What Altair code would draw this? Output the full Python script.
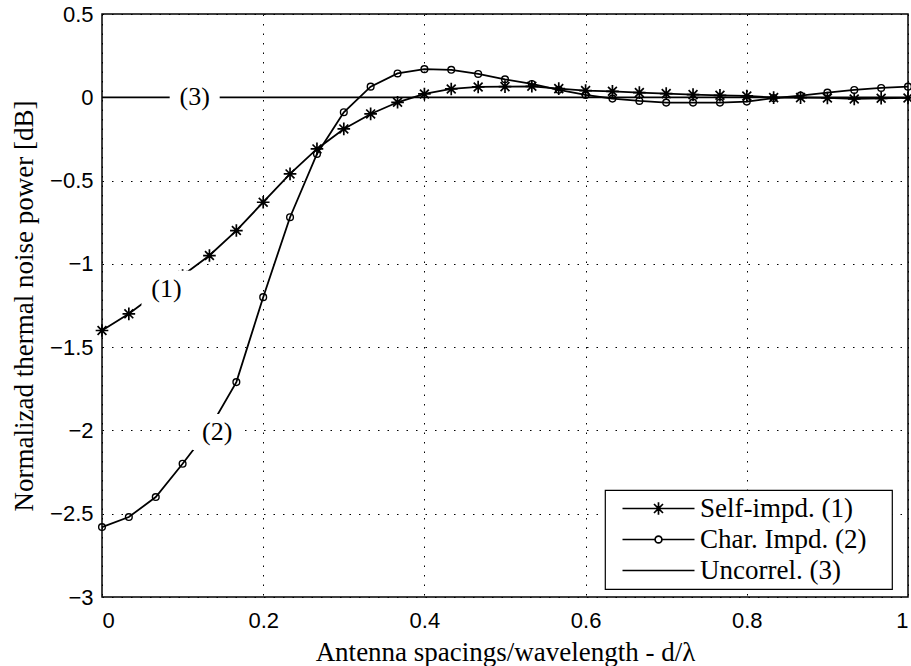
import altair as alt
import pandas as pd

# ---- data ----
x_vals = [0.0, 0.0333, 0.0667, 0.1, 0.1333, 0.1667, 0.2, 0.2333, 0.2667, 0.3,
          0.3333, 0.3667, 0.4, 0.4333, 0.4667, 0.5, 0.5333, 0.5667, 0.6, 0.6333,
          0.6667, 0.7, 0.7333, 0.7667, 0.8, 0.8333, 0.8667, 0.9, 0.9333, 0.9667, 1.0]

self_impd = [-1.40, -1.30, -1.18, -1.07, -0.95, -0.80, -0.63, -0.46, -0.31, -0.19,
             -0.10, -0.03, 0.02, 0.05, 0.062, 0.064, 0.066, 0.052, 0.040, 0.036,
             0.028, 0.022, 0.016, 0.012, 0.008, -0.002, -0.002, -0.004, -0.010, -0.006, -0.004]

char_impd = [-2.58, -2.52, -2.40, -2.20, -1.99, -1.71, -1.20, -0.72, -0.34, -0.09,
             0.064, 0.143, 0.169, 0.165, 0.140, 0.108, 0.080, 0.045, 0.014, -0.008,
             -0.022, -0.032, -0.032, -0.032, -0.026, -0.005, 0.010, 0.028, 0.044, 0.056, 0.064]

uncorr_x = [0.0, 1.0]
uncorr_y = [0.0, 0.0]

series_names = ["Self-impd. (1)", "Char. Impd. (2)", "Uncorrel. (3)"]

label_text = ["(1)", "(2)", "(3)"]
label_x = [0.080, 0.143, 0.115]
label_y = [-1.15, -2.01, 0.0]

y_ticks = [-3, -2.5, -2, -1.5, -1, -0.5, 0, 0.5]
x_ticks = [0, 0.2, 0.4, 0.6, 0.8, 1]

# ---- tables ----
df1 = pd.DataFrame({"x": x_vals, "y": self_impd, "series": series_names[0]})
df2 = pd.DataFrame({"x": x_vals, "y": char_impd, "series": series_names[1]})
df12 = pd.concat([df1, df2], ignore_index=True)
df3 = pd.DataFrame({"x": uncorr_x, "y": uncorr_y})
df_lab = pd.DataFrame({"x": label_x, "y": label_y, "t": label_text})
df_leg = pd.DataFrame({"series": series_names})

STAR = "M0,-1V1M-1,0H1M-0.7,-0.7L0.7,0.7M-0.7,0.7L0.7,-0.7"
BOX = "M-1.25,-0.9H1.25V0.9H-1.25Z"
# legend symbols (unit = 9 px): line sample from -1 to 7, marker centred at 3
LEG_STAR = ("M-1,0H7M3,-0.7V0.7M2.3,0H3.7"
            "M2.5,-0.5L3.5,0.5M2.5,0.5L3.5,-0.5")
LEG_CIRC = ("M-1,0H2.62M3.38,0H7"
            "M3.38,0A0.38,0.38 0 1,1 2.62,0A0.38,0.38 0 1,1 3.38,0")
LEG_LINE = "M-1,0H7"

xs = alt.Scale(domain=[0, 1], nice=False, zero=False)
ys = alt.Scale(domain=[-3, 0.5], nice=False, zero=False)

X = alt.X("x:Q", scale=xs,
          axis=alt.Axis(values=x_ticks, format="~g", title="Antenna spacings/wavelength - d/λ",
                        labelPadding=13, titlePadding=8))
Y = alt.Y("y:Q", scale=ys,
          axis=alt.Axis(values=y_ticks, format="~g", title="Normalizad thermal noise power [dB]",
                        labelPadding=9, titlePadding=11))

line3 = alt.Chart(df3).mark_line(color="black", strokeWidth=1.8).encode(x=X, y=Y)

lines = alt.Chart(df12).mark_line(color="black", strokeWidth=1.8).encode(
    x=X, y=Y, detail="series:N")

stars = alt.Chart(df1).mark_point(shape=STAR, size=160, color="black", strokeWidth=1.7,
                                  filled=False, opacity=1).encode(x=X, y=Y)
circles = alt.Chart(df2).mark_point(shape="circle", size=45, color="black", strokeWidth=1.4,
                                    filled=False, opacity=1).encode(x=X, y=Y)

lab_bg = alt.Chart(df_lab).mark_point(shape=BOX, size=1600, filled=True, color="white",
                                      opacity=1, strokeWidth=0).encode(x=X, y=Y)
lab_txt = alt.Chart(df_lab).mark_text(font="Liberation Serif", fontSize=26, color="black",
                                      align="center", baseline="middle").encode(
    x=X, y=Y, text="t:N")

legend_layer = alt.Chart(df_leg).mark_point(opacity=0, color="black", filled=False,
                                            strokeWidth=1.6).encode(
    x=alt.value(0), y=alt.value(0),
    shape=alt.Shape("series:N",
                    scale=alt.Scale(domain=series_names, range=[LEG_STAR, LEG_CIRC, LEG_LINE]),
                    legend=alt.Legend(title=None, orient="none", legendX=503, legendY=476,
                                      symbolSize=324, symbolStrokeWidth=1.7,
                                      symbolStrokeColor="black", symbolFillColor="transparent",
                                      symbolOpacity=1, symbolOffset=8,
                                      labelFont="Liberation Serif", labelFontSize=27,
                                      labelColor="black", labelOffset=55, labelLimit=400,
                                      labelExpr="datum.label + '\u2800'",
                                      rowPadding=3, padding=5,
                                      strokeColor="black", fillColor="white")))

chart = alt.layer(line3, lines, stars, circles, lab_bg, lab_txt, legend_layer).properties(
    width=806, height=583,
    autosize=alt.AutoSizeParams(type="none"),
    padding={"left": 102, "top": 14, "right": 3, "bottom": 69},
).configure_view(stroke="black", strokeWidth=1.5).configure_axis(
    grid=True, gridColor="black", gridDash=[1.5, 8], gridWidth=1, gridOpacity=1,
    domain=False, ticks=False,
    labelFont="Liberation Sans", labelFontSize=22, labelColor="black",
    titleFont="Liberation Serif", titleFontSize=27, titleFontWeight="normal", titleColor="black",
).configure_legend(strokeWidth=1.2)

chart.save("out.html", embed_options={"renderer": "svg", "actions": False})
